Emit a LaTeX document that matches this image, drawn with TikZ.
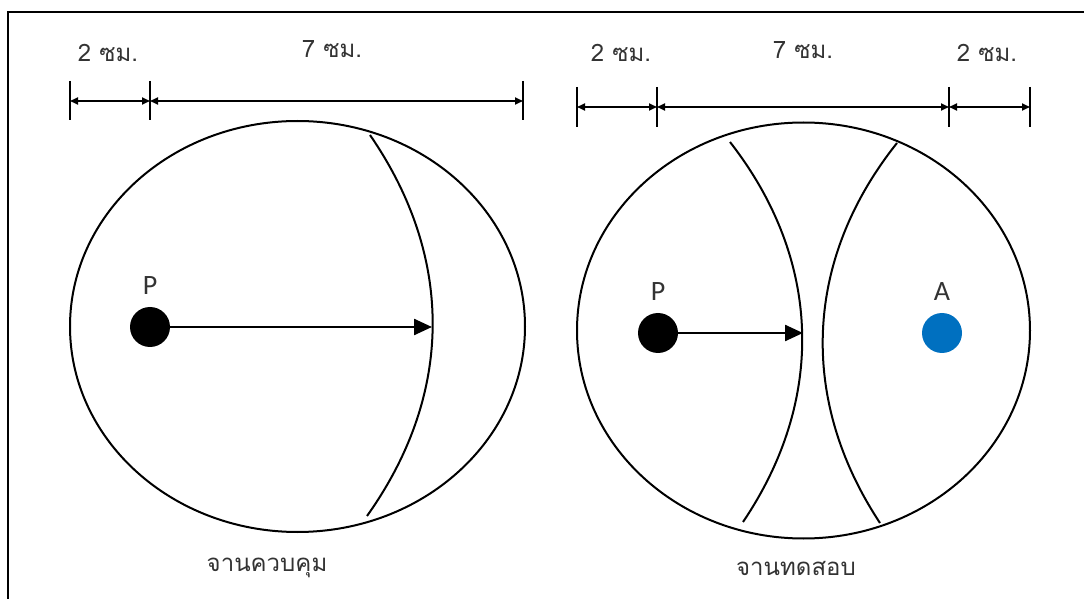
\documentclass[tikz,border=0pt]{standalone}
\usepackage{fontspec}
\newfontfamily\thaifont[Script=Thai]{Loma}
\newfontfamily\latinfont{Carlito}
\usetikzlibrary{arrows.meta,positioning,calc,shapes.geometric}

\begin{document}
\begin{tikzpicture}[x=0.5pt,y=-0.5pt,
    rim/.style={draw=black,line width=1pt},
    cut/.style={draw=black,line width=1pt},
    tick/.style={line width=1pt},
    dim/.style={{Triangle[length=4pt,width=3.5pt]}-{Triangle[length=4pt,width=3.5pt]},line width=0.9pt},
    flow/.style={-{Triangle[length=9pt,width=8pt]},line width=1.2pt},
    dot/.style={circle,minimum size=20pt,inner sep=0pt},
    lbl/.style={font=\thaifont\fontsize{12}{14}\selectfont,text=black!80},
    ptlbl/.style={font=\latinfont\fontsize{14}{16}\selectfont,text=black!80,inner sep=1pt}
  ]
    \useasboundingbox (0,0) rectangle (1084,599);
    % frame
    \coordinate (fL) at (8,599);
    \coordinate (fC) at (8,12);
    \coordinate (fR) at (1084,12);
    \draw[line width=1pt] (fL) -- (fC) -- (fR);

    % control disc
    \node[rim,ellipse,minimum width=227.5pt,minimum height=205.5pt,inner sep=0pt] (discL) at (297.5,326.5) {};
    \coordinate (cutLa) at (370,135);
    \coordinate (cutLb) at (367,516);
    \draw[cut] (cutLa) to[bend left=35] (cutLb);
    \node[dot,fill=black] (pL) at (150,327) {};
    \node[ptlbl,above=5pt of pL] (labPL) {P};
    \coordinate (hitL) at (432,327);
    \draw[flow] (pL) -- (hitL);
    \node[lbl] (nameL) at (267,568) {จานควบคุม};

    % control disc dimensions
    \foreach \n/\x in {a/70,b/150,c/523} {
      \coordinate (dL\n) at (\x,101);
      \draw[tick] (\x,81) -- (\x,120);
    }
    \draw[dim] (dLa) -- (dLb);
    \draw[dim] (dLb) -- (dLc);
    \node[lbl] (wLa) at (108,53) {2 ซม.};
    \node[lbl] (wLb) at (332,49) {7 ซม.};

    % test disc
    \node[rim,ellipse,minimum width=226.5pt,minimum height=208pt,inner sep=0pt] (discR) at (803.5,330.5) {};
    \coordinate (cutRa) at (730,142);
    \coordinate (cutRb) at (743,522);
    \coordinate (cutRc) at (897,143);
    \coordinate (cutRd) at (880,523);
    \draw[cut] (cutRa) to[bend left=36] (cutRb);
    \draw[cut] (cutRc) to[bend right=36] (cutRd);
    \node[dot,fill=black] (pR) at (658,333) {};
    \node[ptlbl,above=5pt of pR] (labPR) {P};
    \node[dot,fill={rgb,255:red,0;green,112;blue,192}] (aR) at (942,333) {};
    \node[ptlbl,above=5pt of aR] (labA) {A};
    \coordinate (hitR) at (803,333);
    \draw[flow] (pR) -- (hitR);
    \node[lbl] (nameR) at (796,568) {จานทดสอบ};

    % test disc dimensions
    \foreach \n/\x in {a/577,b/657,c/949,d/1030} {
      \coordinate (dR\n) at (\x,107);
      \draw[tick] (\x,87) -- (\x,127);
    }
    \draw[dim] (dRa) -- (dRb);
    \draw[dim] (dRb) -- (dRc);
    \draw[dim] (dRc) -- (dRd);
    \node[lbl] (wRa) at (621,53) {2 ซม.};
    \node[lbl] (wRb) at (803,50) {7 ซม.};
    \node[lbl] (wRc) at (987,53) {2 ซม.};
  \end{tikzpicture}
\end{document}
